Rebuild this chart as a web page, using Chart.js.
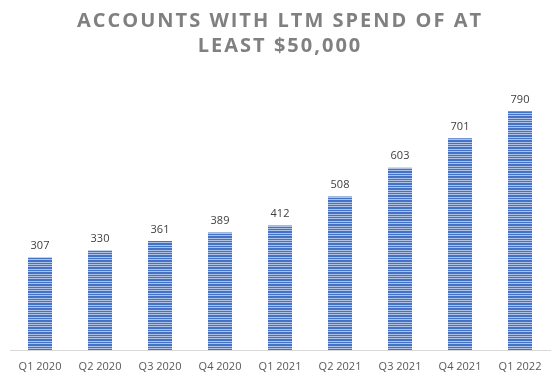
<!DOCTYPE html>
<html>
<head>
<meta charset="utf-8">
<script src="https://cdn.jsdelivr.net/npm/chart.js@4/dist/chart.umd.min.js"></script>
<style>
html,body{margin:0;padding:0;background:#fff;}
#wrap{width:556px;height:380px;position:relative;}
</style>
</head>
<body>
<div id="wrap"><canvas id="c" width="556" height="380"></canvas></div>
<script>
const titleLines = ["ACCOUNTS WITH LTM SPEND OF AT", "LEAST $50,000"];
const categories = ["Q1 2020","Q2 2020","Q3 2020","Q4 2020","Q1 2021","Q2 2021","Q3 2021","Q4 2021","Q1 2022"];
const accounts = [307,330,361,389,412,508,603,701,790];

function makePattern(){
  const p = document.createElement('canvas');
  p.width = 4; p.height = 12;
  const g = p.getContext('2d');
  g.fillStyle = '#4472C4';
  g.fillRect(0,0,4,12);
  g.fillStyle = '#aec2e8';
  [0,2,5,7,10].forEach(r => g.fillRect(0,r,4,1));
  return g.createPattern(p,'repeat');
}

const titlePlugin = {
  id:'titleDraw',
  afterDraw(chart){
    const ctx = chart.ctx;
    ctx.save();
    ctx.fillStyle = '#808080';
    ctx.font = 'bold 20px "Open Sans"';
    ctx.textAlign = 'center';
    ctx.textBaseline = 'middle';
    const w0 = ctx.measureText(titleLines[0]).width;
    const sp = Math.max(0,(404 - w0)/(titleLines[0].length-1));
    ctx.letterSpacing = sp.toFixed(2)+'px';
    ctx.fillText(titleLines[0], 279 + sp/2, 21);
    ctx.fillText(titleLines[1], 279 + sp/2, 46);
    ctx.restore();
  }
};

const labelPlugin = {
  id:'valLabels',
  afterDatasetsDraw(chart){
    const ctx = chart.ctx;
    const meta = chart.getDatasetMeta(0);
    ctx.save();
    ctx.fillStyle = '#404040';
    ctx.font = '11px "Open Sans"';
    ctx.textAlign = 'center';
    ctx.textBaseline = 'bottom';
    meta.data.forEach((bar,i)=>{
      ctx.fillText(String(accounts[i]), bar.x, bar.y - 6);
    });
    ctx.restore();
  }
};

new Chart(document.getElementById('c'),{
  type:'bar',
  data:{labels:categories,datasets:[{data:accounts,backgroundColor:makePattern(),borderWidth:0,categoryPercentage:1,barPercentage:0.4}]},
  options:{
    responsive:false,animation:false,
    layout:{padding:{left:10,right:6,top:78,bottom:7}},
    plugins:{legend:{display:false},tooltip:{enabled:false},title:{display:false}},
    scales:{
      x:{grid:{display:false,drawTicks:false},border:{display:true,color:'#d9d9d9',width:1},
         ticks:{color:'#595959',font:{family:'"Open Sans"',size:11},padding:10,maxRotation:0,autoSkip:false},
         afterFit(s){ s.height = 23; }},
      y:{display:false,min:0,max:900}
    }
  },
  plugins:[titlePlugin,labelPlugin]
});
</script>
</body>
</html>
